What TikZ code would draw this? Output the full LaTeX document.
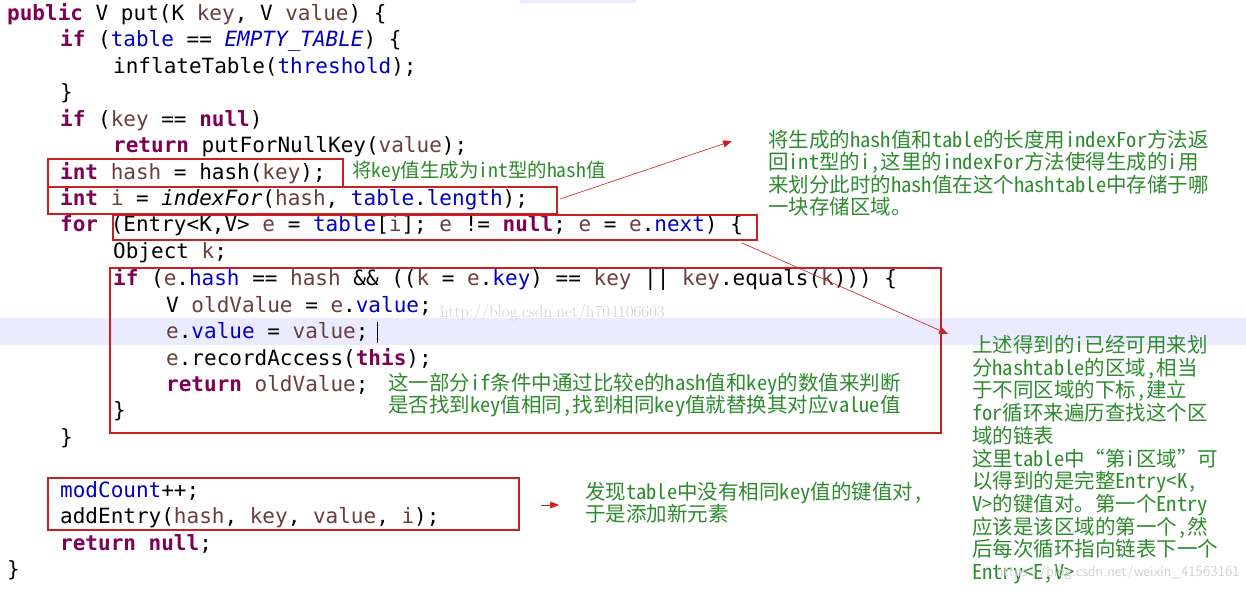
\documentclass[tikz,border=0pt]{standalone}
\usepackage{fontspec}
\setmonofont{DejaVu Sans Mono}
\newfontfamily\cjk[RawFeature=+hwid]{Noto Sans CJK SC}
\usetikzlibrary{arrows.meta}
\definecolor{kw}{HTML}{7F0055}
\definecolor{fld}{HTML}{0000C0}
\definecolor{var}{HTML}{6A3E3E}
\definecolor{note}{HTML}{2E8B2E}
\definecolor{boxred}{HTML}{CC1F1F}
\newcommand{\K}[1]{\textcolor{kw}{\textbf{#1}}}
\newcommand{\F}[1]{\textcolor{fld}{#1}}
\newcommand{\V}[1]{\textcolor{var}{#1}}
\tikzset{
  code/.style={anchor=west,inner sep=0pt,font=\ttfamily\fontsize{21}{21}\selectfont},
  rbox/.style={draw=boxred,line width=1.4pt},
  note/.style={anchor=north west,inner sep=0pt,align=left,text=note,font=\cjk\fontsize{20.5}{22.3}\selectfont},
  arr/.style={draw=boxred,line width=0.6pt,-{Triangle[length=9pt,width=7pt]}},
  wm/.style={inner sep=0pt,text=black!18}
}
\begin{document}
\begin{tikzpicture}[x=1pt,y=-1pt]
\useasboundingbox (0,0) rectangle (1246,591);
\fill[white] (0,0) rectangle (1246,591);
\fill[blue!8] (0,318) rectangle (1246,345);
\fill[blue!8] (520,0) rectangle (636,3);
\def\L#1{14+26.5*(#1-1)}
\node[code] (l1) at (7,{\L1}) {\K{public} V put(K \V{key}, V \V{value}) \{};
\node[code] (l2) at (60,{\L2}) {\K{if} (\F{table} == \F{\textit{EMPTY\_TABLE}}) \{};
\node[code] (l3) at (113,{\L3}) {inflateTable(\F{threshold});};
\node[code] (l4) at (60,{\L4}) {\}};
\node[code] (l5) at (60,{\L5}) {\K{if} (\V{key} == \K{null})};
\node[code] (l6) at (113,{\L6}) {\K{return} putForNullKey(\V{value});};
\node[code] (l7) at (60,{\L7}) {\K{int} \V{hash} = hash(\V{key});};
\node[code] (l8) at (60,{\L8}) {\K{int} \V{i} = \textit{indexFor}(\V{hash}, \F{table}.\F{length});};
\node[code] (l9) at (60,{\L9}) {\K{for} (Entry<K,V> \V{e} = \F{table}[\V{i}]; \V{e} != \K{null}; \V{e} = \V{e}.\F{next}) \{};
\node[code] (l10) at (113,{\L{10}}) {Object \V{k};};
\node[code] (l11) at (113,{\L{11}}) {\K{if} (\V{e}.\F{hash} == \V{hash} \&\& ((\V{k} = \V{e}.\F{key}) == \V{key} || \V{key}.equals(\V{k}))) \{};
\node[code] (l12) at (166,{\L{12}}) {V \V{oldValue} = \V{e}.\F{value};};
\node[code] (l13) at (166,{\L{13}}) {\V{e}.\F{value} = \V{value};};
\node[code] (l14) at (166,{\L{14}}) {\V{e}.recordAccess(\K{this});};
\node[code] (l15) at (166,{\L{15}}) {\K{return} \V{oldValue};};
\node[code] (l16) at (113,{\L{16}}) {\}};
\node[code] (l17) at (60,{\L{17}}) {\}};
\node[code] (l19) at (60,{\L{19}}) {\F{modCount}++;};
\node[code] (l20) at (60,{\L{20}}) {addEntry(\V{hash}, \V{key}, \V{value}, \V{i});};
\node[code] (l21) at (60,{\L{21}}) {\K{return} \K{null};};
\node[code] (l22) at (7,{\L{22}}) {\}};
\draw (377,322) -- (377,343);
\node[wm,anchor=west,font=\rmfamily\fontsize{17}{17}\selectfont] (wm1) at (440,313) {http://blog.csdn.net/h704106603};
% boxes
\draw[rbox] (48,159) rectangle (343,187);
\draw[rbox] (48,187) rectangle (557,214);
\coordinate (b2e) at (560,199);
\draw[rbox] (113,215) rectangle (757,240);
\coordinate (b3e) at (742,243);
\draw[rbox] (110,268) rectangle (941,433);
\draw[rbox] (48,478) rectangle (519,530);
\coordinate (b5e) at (541,505);
% notes
\node[note,font=\cjk\fontsize{19.5}{20}\selectfont] (n1) at (352,161) {将key值生成为int型的hash值};
\node[note] (n2) at (768,130) {将生成的hash值和table的长度用indexFor方法返\\回int型的i，这里的indexFor方法使得生成的i用\\来划分此时的hash值在这个hashtable中存储于哪\\一块存储区域。};
\node[note] (n3) at (388,373) {这一部分if条件中通过比较e的hash值和key的数值来判断\\是否找到key值相同，找到相同key值就替换其对应value值};
\node[note] (n4) at (585,482) {发现table中没有相同key值的键值对，\\于是添加新元素};
\node[note,font=\cjk\fontsize{20.5}{22.7}\selectfont] (n5) at (972,335) {上述得到的i已经可用来划\\分hashtable的区域，相当\\于不同区域的下标，建立\\for循环来遍历查找这个区\\域的链表\\这里table中“第i区域”可\\以得到的是完整Entry<K,\\V>的键值对。第一个Entry\\应该是该区域的第一个，然\\后每次循环指向链表下一个\\Entry<E,V>};
\node[wm,anchor=east,font=\sffamily\fontsize{15}{15}\selectfont] (wm2) at (1240,573) {https://blog.csdn.net/weixin\_41563161};
% arrows
\draw[arr] (b2e) -- (732,141);
\draw[arr] (b3e) -- (948,334);
\draw[arr] (b5e) -- (559,505);
\end{tikzpicture}
\end{document}
